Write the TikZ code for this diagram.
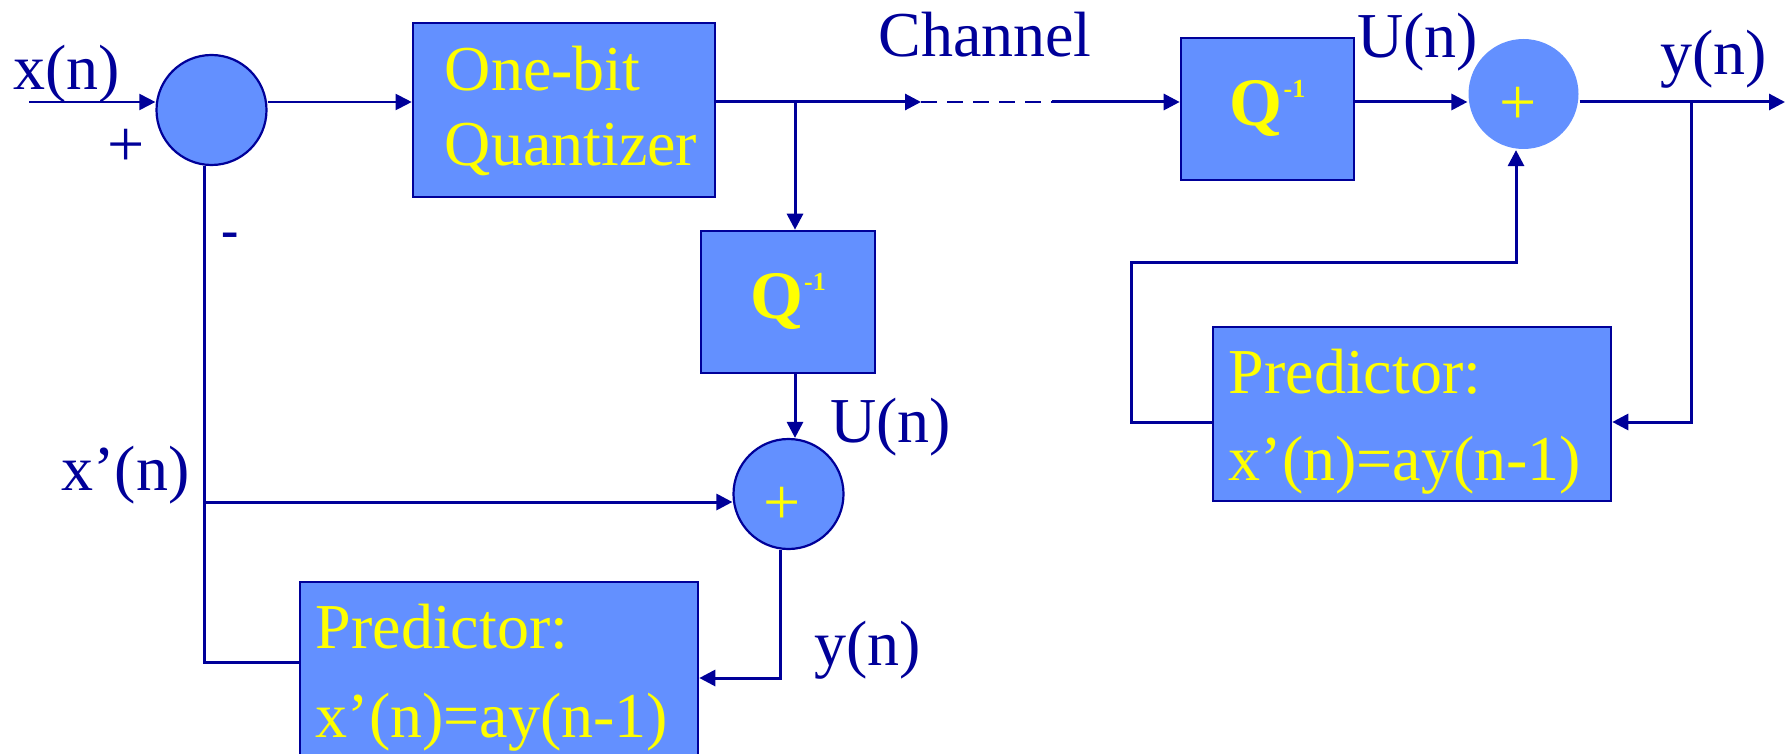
\documentclass[tikz,border=0pt]{standalone}
\usepackage{fontspec}
\setmainfont{Liberation Serif}
\usetikzlibrary{arrows.meta}
\definecolor{navy}{RGB}{0,0,153}
\definecolor{boxfill}{RGB}{99,144,255}
\definecolor{yel}{RGB}{255,255,0}
\tikzset{
  blk/.style={draw=navy, line width=1.3pt, fill=boxfill, inner sep=0pt, text=yel},
  sumnode/.style={circle, draw=navy, line width=1.1pt, fill=boxfill, minimum size=55pt, inner sep=0pt},
  wire/.style={draw=navy, line width=1.5pt},
  thinwire/.style={draw=navy, line width=1.0pt},
  tip/.style={-{Triangle[length=8pt,width=8pt]}},
  lbl/.style={text=navy, font=\fontsize{32}{38}\selectfont, inner sep=0pt, anchor=base west},
  plus/.style={text=yel, font=\fontsize{33}{33}\selectfont, inner sep=0pt},
  qfont/.style={font=\fontsize{34}{34}\selectfont\bfseries, text height=23.5pt, text depth=7pt},
}
\newcommand{\qinv}{Q\kern0.5pt\raisebox{14pt}{\fontsize{13}{13}\selectfont\bfseries -1}}
\begin{document}
\begin{tikzpicture}[x=0.5pt,y=-0.5pt]
\useasboundingbox (0,0) rectangle (1792,754);

% blocks
\node[sumnode] (sumL) at (211.5,110) {};
\node[blk, minimum width=151pt, minimum height=87pt, align=left,
      font=\fontsize{32}{37.5}\selectfont] (quant) at (564,110)
  {\hspace*{7pt}\rule{0pt}{26.5pt}One-bit\\\hspace*{7pt}Quantizer\rule[-8pt]{0pt}{8pt}};
\node[blk, qfont, minimum width=87pt, minimum height=71pt] (qinvL) at (788,302) {\qinv};
\node[sumnode, label={[plus, xshift=-3.25pt, yshift=-6pt]center:+}] (sumB) at (788.5,494) {};
\node[blk, minimum width=199pt, minimum height=87pt, align=left,
      font=\fontsize{32}{44.5}\selectfont] (predL) at (499,669)
  {\hspace*{-7pt}\rule{0pt}{31.5pt}Predictor:\\\hspace*{-7pt}x’(n)=ay(n-1)\rule[-8pt]{0pt}{8pt}};
\node[blk, qfont, minimum width=86.5pt, minimum height=71pt] (qinvR) at (1267.5,109) {\qinv};
\node[sumnode, draw=none, label={[plus, xshift=-2.75pt, yshift=-6pt]center:+}] (sumR) at (1523.5,94) {};
\node[blk, minimum width=199pt, minimum height=87pt, align=left,
      font=\fontsize{32}{43.5}\selectfont] (predR) at (1412,414)
  {\hspace*{-7pt}\rule{0pt}{30.5pt}Predictor:\\\hspace*{-7pt}x’(n)=ay(n-1)\rule[-8pt]{0pt}{8pt}};

% labels
\node[lbl] (lx) at (13,90) {x(n)};
\node[text=navy, font=\fontsize{33}{33}\selectfont, inner sep=0pt] (lplus) at (126,148) {+};
\node[text=navy, font=\fontsize{26}{26}\selectfont\bfseries, inner sep=0pt, anchor=base] (lminus) at (230.5,248) {-};
\node[lbl] (lch) at (878,57) {Channel};
\node[lbl] (lu1) at (1357,58) {U(n)};
\node[lbl] (ly1) at (1660,75) {y(n)};
\node[lbl] (lu2) at (830,442) {U(n)};
\node[lbl] (lxp) at (61,490) {x’(n)};
\node[lbl] (ly2) at (814,665) {y(n)};

% coordinates
\coordinate (m) at (0,102);
\coordinate (in) at (29,102);
\coordinate (j1) at (795,102);
\coordinate (ch1) at (921,102);
\coordinate (ch2) at (1052,102);
\coordinate (out) at (1785,102);
\coordinate (j2) at (1691,102);
\coordinate (c3) at (1691,422);
\coordinate (fb1) at (1131,422);
\coordinate (fb2) at (1131,262);
\coordinate (fb3) at (1516,262);
\coordinate (c1) at (204,662);
\coordinate (xp) at (204,502);
\coordinate (c2) at (780,678);

% connectors
\draw[thinwire, tip] (in) -- (in -| sumL.west);
\draw[thinwire, tip] (sumL.east |- m) -- (quant.west |- m);
\draw[wire, tip] (quant.east |- m) -- (ch1);
\draw[wire, line width=1.2pt, dash pattern=on 8pt off 5pt] (ch1) -- (ch2);
\draw[wire, tip] (ch2) -- (qinvR.west |- m);
\draw[wire, tip] (j1) -- (j1 |- qinvL.north);
\draw[wire, tip] (j1 |- qinvL.south) -- (j1 |- sumB.north);
\draw[wire] (c1 -| predL.west) -- (c1) -- (c1 |- sumL.south);
\draw[wire, tip] (xp) -- (xp -| sumB.west);
\draw[wire, tip] (c2 |- sumB.south) -- (c2) -- (c2 -| predL.east);
\draw[wire, tip] (qinvR.east |- m) -- (sumR.west |- m);
\draw[wire, tip] (sumR.east |- m) -- (out);
\draw[wire, tip] (j2) -- (c3) -- (c3 -| predR.east);
\draw[wire, tip] (fb1 -| predR.west) -- (fb1) -- (fb2) -- (fb3) -- (fb3 |- sumR.south);
\end{tikzpicture}
\end{document}
